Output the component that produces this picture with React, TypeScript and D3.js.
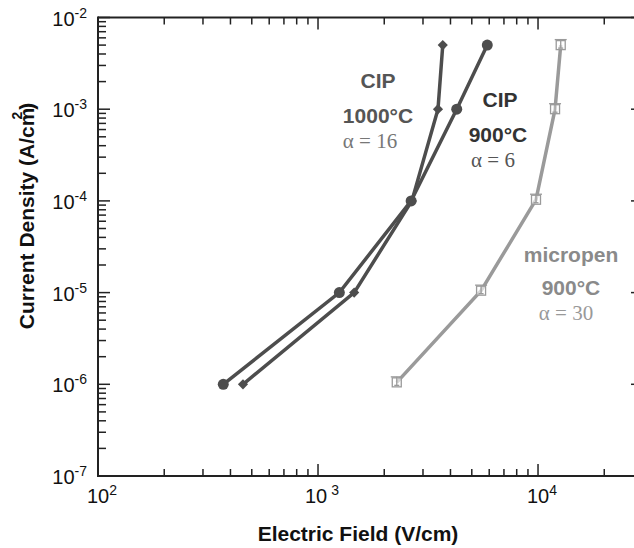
import React from "react";
import * as d3 from "d3";

// ---- data ----
const fieldCIP1000 = [456, 1460, 2670, 3510, 3690];
const currentCIP1000 = [1e-6, 1e-5, 1e-4, 1e-3, 5e-3];
const fieldCIP900 = [371, 1250, 2650, 4270, 5880];
const currentCIP900 = [1e-6, 1e-5, 1e-4, 1e-3, 5e-3];
const fieldMicropen = [2280, 5510, 9790, 11950, 12680];
const currentMicropen = [1.05e-6, 1.05e-5, 1.03e-4, 1e-3, 5e-3];

const xTickExponents = [2, 3, 4];
const yTickExponents = [-2, -3, -4, -5, -6, -7];

const W = 634;
const H = 548;
const SANS = "'Liberation Sans', Arial, Helvetica, sans-serif";
const SERIF = "'Liberation Serif', 'Times New Roman', serif";

const DARK = "#4d4d4d";
const LIGHT = "#9a9a9a";

export default function App() {
  const x = d3.scaleLog().domain([100, 30000]).range([98, 643]);
  const y = d3.scaleLog().domain([1e-7, 1e-2]).range([476, 17.5]);
  const [x0, x1] = x.range();
  const [yb, yt] = y.range();

  const isMajor = (v: number) => Math.abs(Math.log10(v) - Math.round(Math.log10(v))) < 1e-9;
  const xTicks = x.ticks();
  const yTicks = y.ticks();

  const line = d3
    .line<[number, number]>()
    .x((d) => x(d[0]))
    .y((d) => y(d[1]));

  const cip1000 = fieldCIP1000.map((f, i) => [f, currentCIP1000[i]] as [number, number]);
  const cip900 = fieldCIP900.map((f, i) => [f, currentCIP900[i]] as [number, number]);
  const micro = fieldMicropen.map((f, i) => [f, currentMicropen[i]] as [number, number]);

  return (
    <svg
      width={W}
      height={H}
      style={{ position: "absolute", left: 0, top: 0, background: "#fff" }}
      fontFamily={SANS}
    >
      <rect x={0} y={0} width={W} height={H} fill="#fff" />
      {/* axes frame */}
      <g stroke="#222" strokeWidth={2} fill="none">
        <line x1={x0} y1={yb} x2={x1} y2={yb} />
        <line x1={x0} y1={yt} x2={x1} y2={yt} />
        <line x1={x0} y1={yb + 1} x2={x0} y2={yt - 1} />
        <line x1={x1} y1={yb + 1} x2={x1} y2={yt - 1} />
      </g>
      {/* ticks */}
      <g stroke="#222" strokeWidth={1.5}>
        {xTicks.map((v, i) => {
          const L = isMajor(v) ? 12 : 7;
          return (
            <g key={"xt" + i}>
              <line x1={x(v)} x2={x(v)} y1={yb} y2={yb - L} />
              <line x1={x(v)} x2={x(v)} y1={yt} y2={yt + L} />
            </g>
          );
        })}
        {yTicks.map((v, i) => {
          const L = isMajor(v) ? 12 : 8;
          return (
            <g key={"yt" + i}>
              <line x1={x0} x2={x0 + L} y1={y(v)} y2={y(v)} />
              <line x1={x1} x2={x1 - L} y1={y(v)} y2={y(v)} />
            </g>
          );
        })}
      </g>
      {/* x tick labels */}
      <g fill="#111" fontSize={20}>
        {xTickExponents.map((e) => (
          <text key={"xl" + e} x={x(Math.pow(10, e)) + 4} y={503} textAnchor="middle">
            10
            <tspan dx={e === 3 ? 4 : 0} dy={-8} fontSize={14}>
              {e}
            </tspan>
          </text>
        ))}
      </g>
      {/* y tick labels */}
      <g fill="#111" fontSize={20}>
        {yTickExponents.map((e) => (
          <text key={"yl" + e} x={87} y={y(Math.pow(10, e)) + 8} textAnchor="end">
            10
            <tspan dy={-8} fontSize={14}>
              {"-" + Math.abs(e)}
            </tspan>
          </text>
        ))}
      </g>
      {/* axis titles */}
      <text x={358} y={541} textAnchor="middle" fontSize={21} fontWeight="bold" fill="#111">
        Electric Field (V/cm)
      </text>
      <text
        transform="translate(34,216) rotate(-90)"
        textAnchor="middle"
        fontSize={21}
        fontWeight="bold"
        fill="#111"
      >
        Current Density (A/cm
        <tspan dx={-12} dy={-12} fontSize={14}>
          2
        </tspan>
        <tspan dx={2} dy={12}>)</tspan>
      </text>

      {/* series lines */}
      <path d={line(cip1000) || ""} fill="none" stroke={DARK} strokeWidth={3.5} />
      <path d={line(cip900) || ""} fill="none" stroke={DARK} strokeWidth={3.5} />
      <path d={line(micro) || ""} fill="none" stroke={LIGHT} strokeWidth={3.5} />

      {/* markers */}
      {cip1000.map((d, i) => (
        <rect
          key={"m1" + i}
          x={-3.6}
          y={-3.6}
          width={7.2}
          height={7.2}
          transform={`translate(${x(d[0])},${y(d[1])}) rotate(45)`}
          fill={DARK}
        />
      ))}
      {cip900.map((d, i) => (
        <circle key={"m2" + i} cx={x(d[0])} cy={y(d[1])} r={5.5} fill={DARK} />
      ))}
      {micro.map((d, i) => {
        const cx = x(d[0]);
        const cy = y(d[1]);
        return (
          <g key={"m3" + i} stroke={LIGHT} strokeWidth={1.3} fill="none">
            <rect x={cx - 4.5} y={cy - 4.5} width={9} height={9} fill="#fff" fillOpacity={0.6} />
            <line x1={cx - 6} x2={cx + 6} y1={cy - 5.5} y2={cy - 5.5} />
            <line x1={cx} x2={cx} y1={cy - 5.5} y2={cy + 3} />
            <line x1={cx - 2.5} x2={cx + 2.5} y1={cy + 3} y2={cy + 3} />
          </g>
        );
      })}

      {/* annotations */}
      <g fontWeight="bold" fontSize={21} textAnchor="middle">
        <text x={378} y={88} fill="#555">CIP</text>
        <text x={378} y={123} fill="#555">1000°C</text>
        <text x={500} y={107} fill="#333">CIP</text>
        <text x={498} y={142} fill="#333">900°C</text>
        <text x={571} y={262} fill="#8a8a8a">micropen</text>
        <text x={571} y={295} fill="#8a8a8a">900°C</text>
      </g>
      <g fontFamily={SERIF} fontSize={21} textAnchor="middle">
        <text x={370} y={148} fill="#777">α = 16</text>
        <text x={493} y={167} fill="#555">α = 6</text>
        <text x={566} y={320} fill="#999">α = 30</text>
      </g>
    </svg>
  );
}
